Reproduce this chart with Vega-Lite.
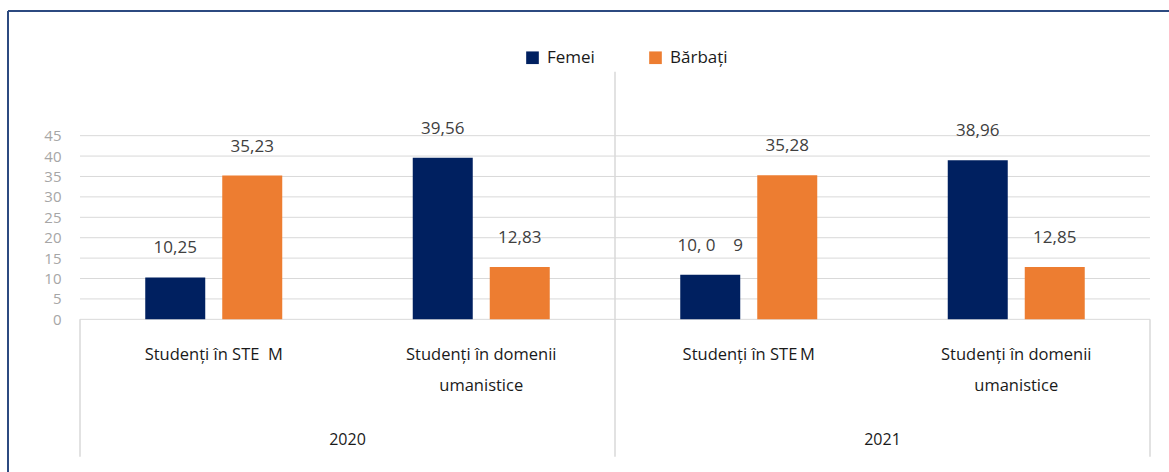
{
  "$schema": "https://vega.github.io/schema/vega-lite/v6.json",
  "autosize": {"type": "none"},
  "width": 1161,
  "height": 461,
  "padding": {"left": 8, "top": 11, "right": 0, "bottom": 0},
  "background": "white",
  "config": {
    "view": {"stroke": "#2c4a80", "strokeWidth": 2, "strokeDash": [1161, 1622, 461, 0]},
    "font": "Open Sans"
  },
  "datasets": {
    "bars": [
      {"slot": "2020|Studenți în STE\u00a0\u00a0M", "gen": "Femei", "value": 10.25, "label": "10,25"},
      {"slot": "2020|Studenți în STE\u00a0\u00a0M", "gen": "Bărbați", "value": 35.23, "label": "35,23"},
      {"slot": "2020|Studenți în domenii/umanistice", "gen": "Femei", "value": 39.56, "label": "39,56"},
      {"slot": "2020|Studenți în domenii/umanistice", "gen": "Bărbați", "value": 12.83, "label": "12,83"},
      {"slot": "2021|Studenți în STE\u2009M", "gen": "Femei", "value": 10.9, "label": "10, 0\u00a0\u00a0\u00a0\u00a09"},
      {"slot": "2021|Studenți în STE\u2009M", "gen": "Bărbați", "value": 35.28, "label": "35,28"},
      {"slot": "2021|Studenți în domenii/umanistice", "gen": "Femei", "value": 38.96, "label": "38,96"},
      {"slot": "2021|Studenți în domenii/umanistice", "gen": "Bărbați", "value": 12.85, "label": "12,85"}
    ],
    "years": [
      {"year": "2020", "slot": "2020|Studenți în STE\u00a0\u00a0M"},
      {"year": "2021", "slot": "2021|Studenți în STE\u2009M"}
    ],
    "grid": [{"v": 0}, {"v": 5}, {"v": 10}, {"v": 15}, {"v": 20}, {"v": 25}, {"v": 30}, {"v": 35}, {"v": 40}, {"v": 45}]
  },
  "layer": [
    {
      "data": {"name": "grid"},
      "mark": {"type": "rule", "color": "#d9d9d9", "strokeWidth": 1},
      "encoding": {
        "y": {
          "field": "v", "type": "quantitative",
          "scale": {"domain": [-37.405, 75.545], "nice": false, "zero": false},
          "axis": {"title": null, "values": [0, 5, 10, 15, 20, 25, 30, 35, 40, 45], "grid": false, "domain": false, "ticks": false, "offset": -55, "labelPadding": 2, "labelFontSize": 15, "labelColor": "#a6a6a6"}
        },
        "x": {
          "datum": "2020|Studenți în STE\u00a0\u00a0M", "type": "nominal", "bandPosition": 0,
          "scale": {"domain": ["2020|Studenți în STE\u00a0\u00a0M", "2020|Studenți în domenii/umanistice", "2021|Studenți în STE\u2009M", "2021|Studenți în domenii/umanistice"], "paddingInner": 0, "paddingOuter": 0.17009, "align": 0.7912},
          "axis": {"title": null, "orient": "bottom", "offset": -152.67, "domain": false, "ticks": false, "tickSize": 0, "labelPadding": 27, "labelFontSize": 16.5, "labelColor": "#1a1a1a", "labelLineHeight": 31, "labelAngle": 0, "labelLimit": 300, "labelExpr": "split(split(datum.value, '|')[1], '/')"}
        },
        "x2": {"datum": "2021|Studenți în domenii/umanistice", "bandPosition": 1}
      }
    },
    {
      "data": {"values": [{}]},
      "mark": {"type": "rule", "color": "#d9d9d9", "strokeWidth": 1.5},
      "encoding": {
        "x": {"datum": "2020|Studenți în STE\u00a0\u00a0M", "type": "nominal", "bandPosition": 0},
        "y": {"datum": 0, "type": "quantitative"},
        "y2": {"datum": -33.66}
      }
    },
    {
      "data": {"values": [{}]},
      "mark": {"type": "rule", "color": "#d9d9d9", "strokeWidth": 1.5},
      "encoding": {
        "x": {"datum": "2021|Studenți în STE\u2009M", "type": "nominal", "bandPosition": 0},
        "y": {"datum": 60.67, "type": "quantitative"},
        "y2": {"datum": -33.66}
      }
    },
    {
      "data": {"values": [{}]},
      "mark": {"type": "rule", "color": "#d9d9d9", "strokeWidth": 1.5},
      "encoding": {
        "x": {"datum": "2021|Studenți în domenii/umanistice", "type": "nominal", "bandPosition": 1},
        "y": {"datum": 0, "type": "quantitative"},
        "y2": {"datum": -33.66}
      }
    },
    {
      "data": {"name": "bars"},
      "mark": {"type": "bar"},
      "encoding": {
        "x": {"field": "slot", "type": "nominal"},
        "xOffset": {"field": "gen", "type": "nominal", "scale": {"domain": ["Femei", "Bărbați"], "paddingInner": 0.22078, "paddingOuter": 0.8474}},
        "y": {"field": "value", "type": "quantitative"},
        "y2": {"datum": 0},
        "color": {
          "field": "gen", "type": "nominal",
          "scale": {"domain": ["Femei", "Bărbați"], "range": ["#002060", "#ED7D31"]},
          "legend": {"title": null, "orient": "none", "legendX": 516, "legendY": 38, "direction": "horizontal", "symbolType": "square", "symbolSize": 160, "symbolStrokeWidth": 0, "labelFontSize": 17, "labelColor": "#1a1a1a", "columnPadding": 52, "labelOffset": 6}
        }
      }
    },
    {
      "data": {"name": "bars"},
      "mark": {"type": "text", "dy": -29, "baseline": "middle", "fontSize": 17, "color": "#404040"},
      "encoding": {
        "x": {"field": "slot", "type": "nominal"},
        "xOffset": {"field": "gen", "type": "nominal"},
        "y": {"field": "value", "type": "quantitative"},
        "text": {"field": "label"}
      }
    },
    {
      "data": {"name": "years"},
      "mark": {"type": "text", "baseline": "middle", "fontSize": 16, "color": "#1a1a1a"},
      "encoding": {
        "x": {"field": "slot", "type": "nominal", "bandPosition": 1},
        "y": {"datum": -29.57, "type": "quantitative"},
        "text": {"field": "year"}
      }
    }
  ]
}
